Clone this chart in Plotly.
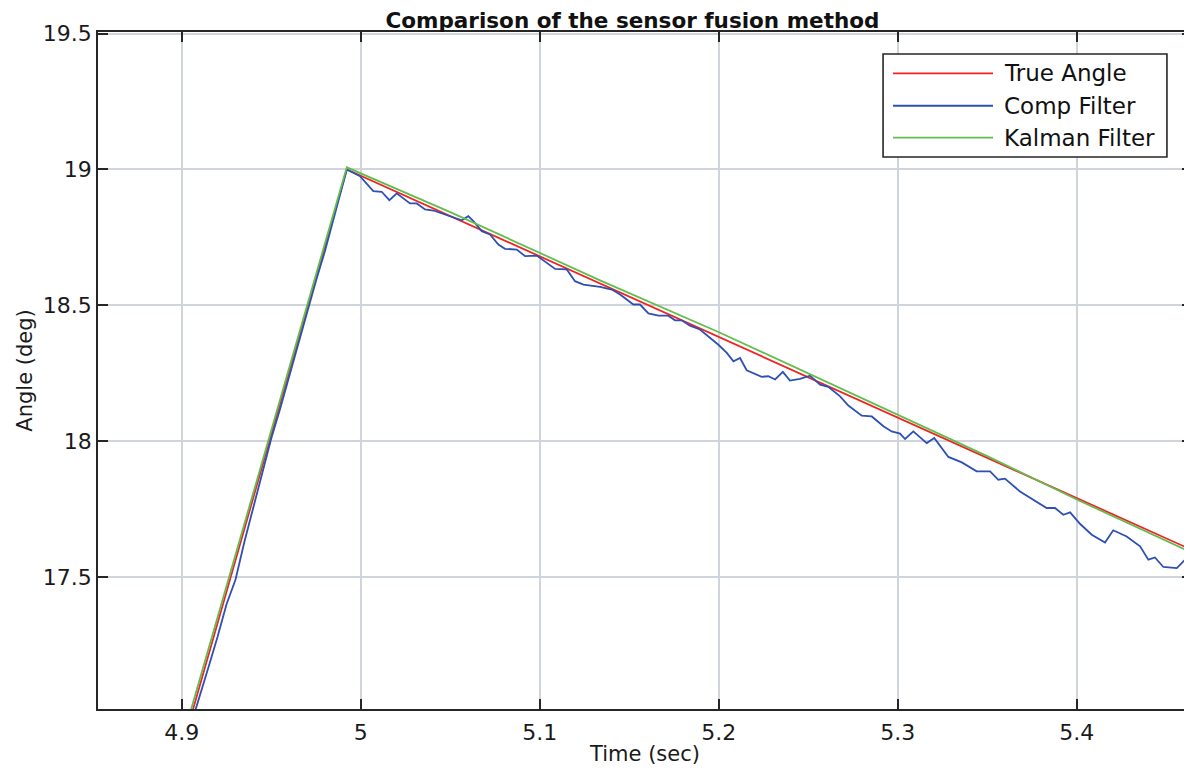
import plotly.graph_objects as go

# ---------------- data ----------------
time_true = [4.9014, 4.9922, 5.4700]
angle_true = [16.900, 19.000, 17.583]

time_comp = [4.9030, 4.9078, 4.9150, 4.9200, 4.9250, 4.9300, 4.9350, 4.9400, 4.9450,
             4.9500, 4.9550, 4.9600, 4.9650, 4.9700, 4.9750, 4.9800, 4.9850, 4.9900,
             4.9922, 4.9996, 5.0042, 5.0070, 5.0117, 5.0160, 5.0201, 5.0275, 5.0313,
             5.0359, 5.0406, 5.0480, 5.0564, 5.0601, 5.0629, 5.0676, 5.0722, 5.0769,
             5.0806, 5.0872, 5.0918, 5.0983, 5.1039, 5.1086, 5.1151, 5.1197, 5.1244,
             5.1337, 5.1402, 5.1449, 5.1523, 5.1560, 5.1607, 5.1663, 5.1718, 5.1756,
             5.1793, 5.1839, 5.1895, 5.1942, 5.1998, 5.2045, 5.2082, 5.2119, 5.2156,
             5.2240, 5.2277, 5.2315, 5.2358, 5.2398, 5.2454, 5.2510, 5.2566, 5.2612,
             5.2678, 5.2724, 5.2799, 5.2855, 5.2920, 5.2966, 5.3013, 5.3041, 5.3087,
             5.3162, 5.3204, 5.3283, 5.3358, 5.3441, 5.3516, 5.3562, 5.3599, 5.3683,
             5.3767, 5.3832, 5.3879, 5.3925, 5.3963, 5.4018, 5.4084, 5.4158, 5.4204,
             5.4279, 5.4354, 5.4400, 5.4437, 5.4484, 5.4559, 5.4605, 5.4644]
angle_comp = [16.900, 17.014, 17.170, 17.280, 17.400, 17.490, 17.630, 17.760, 17.890,
              18.010, 18.120, 18.240, 18.350, 18.470, 18.590, 18.700, 18.820, 18.940,
              19.000, 18.975, 18.939, 18.920, 18.918, 18.887, 18.912, 18.875, 18.875,
              18.853, 18.849, 18.831, 18.813, 18.828, 18.810, 18.773, 18.761, 18.724,
              18.708, 18.705, 18.681, 18.683, 18.656, 18.634, 18.632, 18.589, 18.576,
              18.568, 18.558, 18.540, 18.503, 18.503, 18.470, 18.462, 18.462, 18.445,
              18.445, 18.425, 18.411, 18.386, 18.355, 18.325, 18.294, 18.306, 18.261,
              18.237, 18.239, 18.227, 18.255, 18.223, 18.229, 18.241, 18.208, 18.200,
              18.165, 18.131, 18.094, 18.091, 18.055, 18.036, 18.028, 18.008, 18.036,
              17.993, 18.012, 17.942, 17.922, 17.889, 17.889, 17.858, 17.862, 17.815,
              17.782, 17.754, 17.754, 17.729, 17.738, 17.696, 17.656, 17.627, 17.672,
              17.649, 17.613, 17.564, 17.572, 17.537, 17.533, 17.564, 17.546]

time_kalman = [4.9003, 4.9922, 5.0500, 5.1337, 5.1998, 5.2500, 5.3013, 5.3500,
               5.4018, 5.4644, 5.4700]
angle_kalman = [16.900, 19.008, 18.843, 18.592, 18.402, 18.250, 18.092, 17.945,
                17.780, 17.590, 17.573]

series_names = ["True Angle", "Comp Filter", "Kalman Filter"]
series_colors = ["#f02424", "#2e4fb4", "#62bd4f"]

x_tickvals = [4.9, 5.0, 5.1, 5.2, 5.3, 5.4]
x_ticktext = ["4.9", "5", "5.1", "5.2", "5.3", "5.4"]
y_tickvals = [17.5, 18.0, 18.5, 19.0, 19.5]
y_ticktext = ["17.5", "18", "18.5", "19", "19.5"]

FONT = "DejaVu Sans"

fig = go.Figure()
for name, xs, ys, col in zip(series_names,
                             [time_true, time_comp, time_kalman],
                             [angle_true, angle_comp, angle_kalman],
                             series_colors):
    fig.add_trace(go.Scatter(x=xs, y=ys, mode="lines", name=name,
                             line=dict(color=col, width=1.8), showlegend=False))

axis_common = dict(showline=True, linecolor="#262626", linewidth=1.6,
                   mirror="ticks", ticks="inside", ticklen=10, tickwidth=1.6,
                   tickcolor="#262626", showgrid=True, gridcolor="#d0d5db",
                   gridwidth=1.5, zeroline=False, automargin=False,
                   tickfont=dict(family=FONT, size=22, color="#1a1a1a"))

fig.update_xaxes(range=[4.8532, 5.4644], tickvals=x_tickvals, ticktext=x_ticktext,
                 title=dict(text="Time (sec)", font=dict(family=FONT, size=21, color="#1a1a1a"),
                            standoff=2),
                 ticklabelstandoff=3, **axis_common)
fig.update_yaxes(range=[17.0143, 19.506], tickvals=y_tickvals, ticktext=y_ticktext,
                 title=dict(text="Angle (deg)", font=dict(family=FONT, size=21, color="#1a1a1a"),
                            standoff=4),
                 ticklabelstandoff=0, **axis_common)

# legend box drawn manually (paper coordinates)
fig.add_shape(type="rect", xref="paper", yref="paper", x0=0.7176, x1=0.9771,
              y0=0.8154, y1=0.9675, line=dict(color="#262626", width=1.6),
              fillcolor="white", layer="above")
legend_rows = [0.939, 0.8911, 0.8439]
for name, col, yy in zip(series_names, series_colors, legend_rows):
    fig.add_shape(type="line", xref="paper", yref="paper", x0=0.7267, x1=0.8181,
                  y0=yy, y1=yy, line=dict(color=col, width=1.8), layer="above")
    fig.add_annotation(xref="paper", yref="paper", x=0.826, y=yy, text=name,
                       showarrow=False, xanchor="left", yanchor="middle",
                       font=dict(family=FONT, size=23, color="#111111"))

# the page places the figure 8px from the top-left corner of the window
fig.update_layout(
    width=1184, height=768,
    margin=dict(l=90, r=0, t=24, b=67, autoexpand=False),
    paper_bgcolor="white", plot_bgcolor="white",
    title=dict(text="<b>Comparison of the sensor fusion method</b>",
               x=0.5274, xanchor="center", y=1 - 12 / 768, yanchor="middle",
               font=dict(family=FONT, size=21.5, color="#111111")),
    showlegend=False,
)

fig.write_html("out.html")
